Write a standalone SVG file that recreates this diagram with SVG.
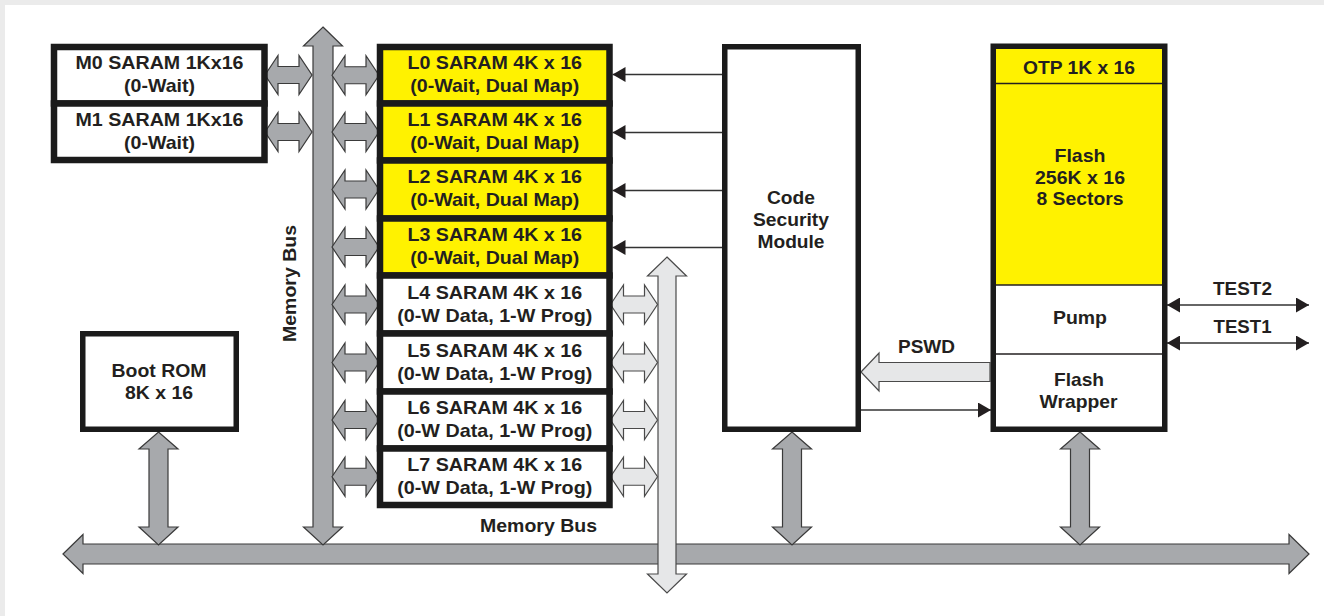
<svg xmlns="http://www.w3.org/2000/svg" xmlns:xlink="http://www.w3.org/1999/xlink" width="1324" height="616" viewBox="0 0 1324 616">
<style>
.t{font-family:"Liberation Sans",Arial,Helvetica,sans-serif;font-weight:bold;font-size:18.5px;fill:#231f20;text-anchor:middle}
.box{stroke:#1b1b1b;stroke-width:6.5}
.frame{fill:none;stroke:#1b1b1b;stroke-width:5.5}
.y{fill:#fff200}
.w{fill:#ffffff}
.div{stroke:#231f20;stroke-width:1.6}
.dk{fill:#a7a9ac;stroke:#3a3a3a;stroke-width:1.2;stroke-linejoin:miter}
.lt{fill:#e6e7e8;stroke:#4a4a4a;stroke-width:1.2;stroke-linejoin:miter}
.thin{stroke:#333;stroke-width:1.4;fill:none}
</style>
<defs>
<marker id="ah" markerUnits="userSpaceOnUse" viewBox="0 0 13 15" refX="13" refY="7.5" markerWidth="13" markerHeight="15" orient="auto-start-reverse">
<path d="M0,0 L13,7.5 L0,15 Z" fill="#231f20"/>
</marker>
<polygon id="dh" points="-23.5,0 -10.5,-19.5 -10.5,-8.5 10.5,-8.5 10.5,-19.5 23.5,0 10.5,19.5 10.5,8.5 -10.5,8.5 -10.5,19.5"/>
</defs>
<rect x="0" y="0" width="1324" height="616" fill="#ffffff"/>
<rect x="0" y="0" width="1324" height="5" fill="#ebebeb"/>
<rect x="0" y="0" width="5" height="616" fill="#ebebeb"/>

<g id="connectors">
<polygon id="main-bus" class="dk" points="63,554 83,534.5 83,544 1289,544 1289,534.5 1309,554 1289,573.5 1289,564 83,564 83,573.5"/>
<polygon id="memory-bus-v" class="dk" points="323,27 342.5,46 333,46 333,527 342.5,527 323,545 303.5,527 313,527 313,46 303.5,46"/>
<polygon class="dk" points="158.5,432 178,449 168,449 168,527 178,527 158.5,545 139,527 149,527 149,449 139,449"/>
<polygon class="dk" points="792,432 811.5,449 801.5,449 801.5,527 811.5,527 792,545 772.5,527 782.5,527 782.5,449 772.5,449"/>
<polygon class="dk" points="1080,432 1099.5,449 1089.5,449 1089.5,527 1099.5,527 1080,545 1060.5,527 1070.5,527 1070.5,449 1060.5,449"/>
<polygon id="light-bus" class="lt" points="667,257 686.5,276 676,276 676,574 686.5,574 667,593 647.5,574 658,574 658,276 647.5,276"/>
<use xlink:href="#dh" href="#dh" class="dk" transform="translate(288.5,75)"/>
<use xlink:href="#dh" href="#dh" class="dk" transform="translate(288.5,132)"/>
<use xlink:href="#dh" href="#dh" class="dk" transform="translate(355.5,75.25)"/>
<use xlink:href="#dh" href="#dh" class="dk" transform="translate(355.5,132)"/>
<use xlink:href="#dh" href="#dh" class="dk" transform="translate(355.5,189.5)"/>
<use xlink:href="#dh" href="#dh" class="dk" transform="translate(355.5,247)"/>
<use xlink:href="#dh" href="#dh" class="dk" transform="translate(355.5,304.5)"/>
<use xlink:href="#dh" href="#dh" class="dk" transform="translate(355.5,362.5)"/>
<use xlink:href="#dh" href="#dh" class="dk" transform="translate(355.5,420)"/>
<use xlink:href="#dh" href="#dh" class="dk" transform="translate(355.5,476.75)"/>
<use xlink:href="#dh" href="#dh" class="lt" transform="translate(634,304.5)"/>
<use xlink:href="#dh" href="#dh" class="lt" transform="translate(634,362.5)"/>
<use xlink:href="#dh" href="#dh" class="lt" transform="translate(634,420)"/>
<use xlink:href="#dh" href="#dh" class="lt" transform="translate(634,476.75)"/>
<line class="thin" x1="722" y1="74.5" x2="612.5" y2="74.5" marker-end="url(#ah)"/>
<line class="thin" x1="722" y1="132.5" x2="612.5" y2="132.5" marker-end="url(#ah)"/>
<line class="thin" x1="722" y1="190.5" x2="612.5" y2="190.5" marker-end="url(#ah)"/>
<line class="thin" x1="722" y1="247.5" x2="612.5" y2="247.5" marker-end="url(#ah)"/>
<line class="thin" x1="861" y1="410" x2="991" y2="410" marker-end="url(#ah)"/>
<line class="thin" x1="1167" y1="305" x2="1309" y2="305" marker-start="url(#ah)" marker-end="url(#ah)"/>
<line class="thin" x1="1167" y1="343" x2="1309" y2="343" marker-start="url(#ah)" marker-end="url(#ah)"/>
<polygon id="pswd-arrow" class="lt" points="861,372 879,353 879,362.5 990,362.5 990,381.5 879,381.5 879,391"/>
<text class="t" x="926.5" y="353" textLength="57" lengthAdjust="spacingAndGlyphs">PSWD</text>
<text class="t" x="1242.5" y="295" textLength="59" lengthAdjust="spacingAndGlyphs">TEST2</text>
<text class="t" x="1242.5" y="333" textLength="58" lengthAdjust="spacingAndGlyphs">TEST1</text>
<text class="t" transform="translate(296,283.5) rotate(-90)" x="0" y="0" textLength="117" lengthAdjust="spacingAndGlyphs">Memory Bus</text>
<text class="t" x="538.5" y="532" textLength="117" lengthAdjust="spacingAndGlyphs">Memory Bus</text>
</g>

<g id="m0">
<rect class="box w" x="54" y="47" width="210.5" height="56.5"/>
<text class="t" x="159.5" y="68.5" textLength="168" lengthAdjust="spacingAndGlyphs">M0 SARAM 1Kx16</text>
<text class="t" x="159.5" y="91.5" textLength="71" lengthAdjust="spacingAndGlyphs">(0-Wait)</text>
</g>
<g id="m1">
<rect class="box w" x="54" y="103.5" width="210.5" height="56.5"/>
<text class="t" x="159.5" y="125.5" textLength="168" lengthAdjust="spacingAndGlyphs">M1 SARAM 1Kx16</text>
<text class="t" x="159.5" y="148.5" textLength="71" lengthAdjust="spacingAndGlyphs">(0-Wait)</text>
</g>

<g id="l0">
<rect class="box y" x="380" y="47" width="229.5" height="56.5"/>
<text class="t" x="494.75" y="68.75" textLength="174.5" lengthAdjust="spacingAndGlyphs">L0 SARAM 4K x 16</text>
<text class="t" x="494.75" y="91.75" textLength="169" lengthAdjust="spacingAndGlyphs">(0-Wait, Dual Map)</text>
</g>
<g id="l1">
<rect class="box y" x="380" y="103.5" width="229.5" height="57"/>
<text class="t" x="494.75" y="125.5" textLength="174.5" lengthAdjust="spacingAndGlyphs">L1 SARAM 4K x 16</text>
<text class="t" x="494.75" y="148.5" textLength="169" lengthAdjust="spacingAndGlyphs">(0-Wait, Dual Map)</text>
</g>
<g id="l2">
<rect class="box y" x="380" y="160.5" width="229.5" height="58"/>
<text class="t" x="494.75" y="183" textLength="174.5" lengthAdjust="spacingAndGlyphs">L2 SARAM 4K x 16</text>
<text class="t" x="494.75" y="206" textLength="169" lengthAdjust="spacingAndGlyphs">(0-Wait, Dual Map)</text>
</g>
<g id="l3">
<rect class="box y" x="380" y="218.5" width="229.5" height="57"/>
<text class="t" x="494.75" y="240.5" textLength="174.5" lengthAdjust="spacingAndGlyphs">L3 SARAM 4K x 16</text>
<text class="t" x="494.75" y="263.5" textLength="169" lengthAdjust="spacingAndGlyphs">(0-Wait, Dual Map)</text>
</g>
<g id="l4">
<rect class="box w" x="380" y="275.5" width="229.5" height="58"/>
<text class="t" x="494.75" y="298.5" textLength="175" lengthAdjust="spacingAndGlyphs">L4 SARAM 4K x 16</text>
<text class="t" x="494.75" y="321.5" textLength="195" lengthAdjust="spacingAndGlyphs">(0-W Data, 1-W Prog)</text>
</g>
<g id="l5">
<rect class="box w" x="380" y="333.5" width="229.5" height="58"/>
<text class="t" x="494.75" y="356.5" textLength="175" lengthAdjust="spacingAndGlyphs">L5 SARAM 4K x 16</text>
<text class="t" x="494.75" y="379.5" textLength="195" lengthAdjust="spacingAndGlyphs">(0-W Data, 1-W Prog)</text>
</g>
<g id="l6">
<rect class="box w" x="380" y="391.5" width="229.5" height="57"/>
<text class="t" x="494.75" y="414" textLength="175" lengthAdjust="spacingAndGlyphs">L6 SARAM 4K x 16</text>
<text class="t" x="494.75" y="437" textLength="195" lengthAdjust="spacingAndGlyphs">(0-W Data, 1-W Prog)</text>
</g>
<g id="l7">
<rect class="box w" x="380" y="448.5" width="229.5" height="56.5"/>
<text class="t" x="494.75" y="470.5" textLength="175" lengthAdjust="spacingAndGlyphs">L7 SARAM 4K x 16</text>
<text class="t" x="494.75" y="493.5" textLength="195" lengthAdjust="spacingAndGlyphs">(0-W Data, 1-W Prog)</text>
</g>

<g id="boot-rom">
<rect class="frame w" x="82.75" y="333.75" width="153.5" height="95.5" style="fill:#ffffff"/>
<text class="t" x="159" y="377" textLength="95" lengthAdjust="spacingAndGlyphs">Boot ROM</text>
<text class="t" x="159" y="399" textLength="68" lengthAdjust="spacingAndGlyphs">8K x 16</text>
</g>

<g id="code-security-module">
<rect class="frame" x="724.75" y="46.75" width="133.5" height="382.5" style="fill:#ffffff"/>
<text class="t" x="791" y="203.5" textLength="48" lengthAdjust="spacingAndGlyphs">Code</text>
<text class="t" x="791" y="225.5" textLength="76" lengthAdjust="spacingAndGlyphs">Security</text>
<text class="t" x="791" y="247.5" textLength="67" lengthAdjust="spacingAndGlyphs">Module</text>
</g>

<g id="flash-block">
<g id="otp">
<rect class="y" x="993" y="46" width="172" height="37.5"/>
<text class="t" x="1079" y="73.5" textLength="112" lengthAdjust="spacingAndGlyphs">OTP 1K x 16</text>
</g>
<g id="flash">
<rect class="y" x="993" y="83.5" width="172" height="201.5"/>
<text class="t" x="1080" y="162" textLength="51" lengthAdjust="spacingAndGlyphs">Flash</text>
<text class="t" x="1080" y="183.5" textLength="90" lengthAdjust="spacingAndGlyphs">256K x 16</text>
<text class="t" x="1080" y="205" textLength="87" lengthAdjust="spacingAndGlyphs">8 Sectors</text>
</g>
<g id="pump">
<rect class="w" x="993" y="285" width="172" height="69"/>
<text class="t" x="1080" y="323.5" textLength="54" lengthAdjust="spacingAndGlyphs">Pump</text>
</g>
<g id="flash-wrapper">
<rect class="w" x="993" y="354" width="172" height="75"/>
<text class="t" x="1079" y="386" textLength="50" lengthAdjust="spacingAndGlyphs">Flash</text>
<text class="t" x="1078.5" y="408" textLength="78" lengthAdjust="spacingAndGlyphs">Wrapper</text>
</g>
<line class="div" x1="993" y1="83.5" x2="1165" y2="83.5"/>
<line class="div" x1="993" y1="285" x2="1165" y2="285"/>
<line class="div" x1="993" y1="354" x2="1165" y2="354"/>
<rect class="frame" x="993.25" y="46.25" width="171.5" height="383"/>
</g>
</svg>
